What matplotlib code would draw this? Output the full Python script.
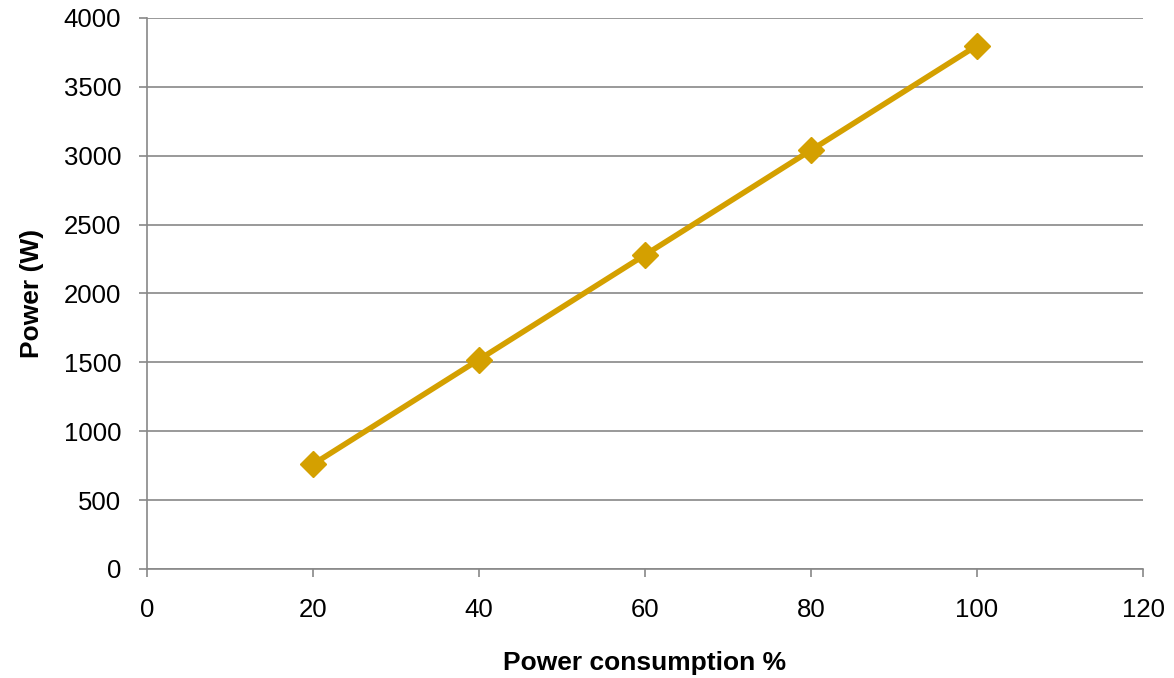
import matplotlib
matplotlib.use("Agg")
import matplotlib.pyplot as plt

plt.rcParams['font.family'] = ['Liberation Sans', 'DejaVu Sans']

# load percentage vs. output power
load_pct = [20, 40, 60, 80, 100]
power_w = [760, 1520, 2280, 3040, 3800]

gold = '#D4A000'
grey = '#888888'

fig = plt.figure(figsize=(11.74, 6.78), dpi=100)
ax = fig.add_axes([0.1252, 0.1608, 0.8484, 0.8127])

ax.plot(load_pct, power_w, color=gold, lw=4, marker='D', ms=13,
        markerfacecolor=gold, markeredgecolor=gold, zorder=3)

ax.set_xlim(0, 120)
ax.set_ylim(0, 4000)
ax.set_xticks(range(0, 121, 20))
ax.set_yticks(range(0, 4001, 500))
ax.yaxis.grid(True, color=grey, lw=1.2)
ax.set_axisbelow(True)

for s in ['top', 'right']:
    ax.spines[s].set_visible(False)
for s in ['left', 'bottom']:
    ax.spines[s].set_color(grey)
    ax.spines[s].set_linewidth(1.2)

ax.tick_params(direction='out', length=6, width=1.2, color=grey,
               labelsize=18.5)
ax.tick_params(axis='x', pad=15)
ax.tick_params(axis='y', pad=12.5)
ax.set_xlabel('Power consumption %', fontsize=19, fontweight='bold', labelpad=21)
ax.set_ylabel('Power (W)', fontsize=19, fontweight='bold', labelpad=14)

fig.savefig('out.png', dpi=100)
